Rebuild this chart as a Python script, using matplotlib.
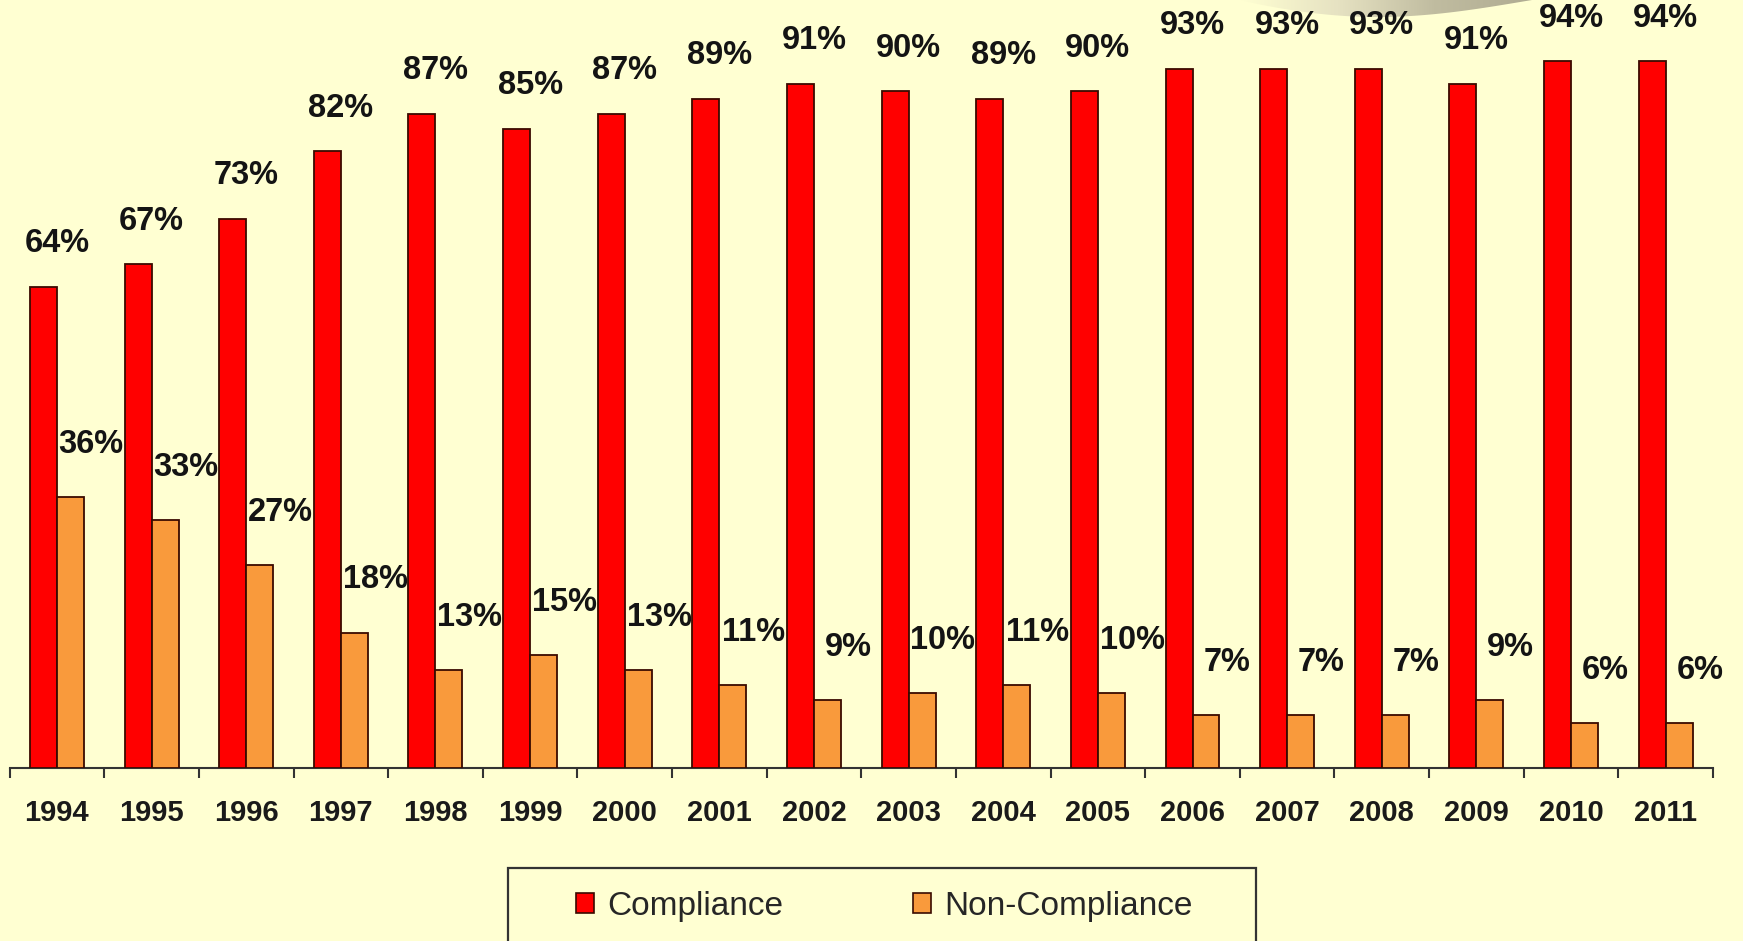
import matplotlib
matplotlib.use("Agg")
import matplotlib.pyplot as plt
import numpy as np
from matplotlib.patches import Rectangle, Polygon, Patch
from matplotlib.colors import LinearSegmentedColormap

# Data
years = ["1994", "1995", "1996", "1997", "1998", "1999", "2000", "2001", "2002",
         "2003", "2004", "2005", "2006", "2007", "2008", "2009", "2010", "2011"]
compliance = [64, 67, 73, 82, 87, 85, 87, 89, 91, 90, 89, 90, 93, 93, 93, 91, 94, 94]
non_compliance = [36, 33, 27, 18, 13, 15, 13, 11, 9, 10, 11, 10, 7, 7, 7, 9, 6, 6]

BG = "#FFFFD2"
RED = "#FF0000"
ORANGE = "#F99A3C"
EDGE = "#3A0A00"
FONT = "Liberation Sans"

W, H = 1743, 941
fig = plt.figure(figsize=(W / 100, H / 100), dpi=100, facecolor=BG)

# Decorative swoosh in the top-right corner
deco = fig.add_axes([0, 0, 1, 1], zorder=0)
deco.set_xlim(0, W)
deco.set_ylim(H, 0)
deco.axis("off")
deco.patch.set_alpha(0)
x0s, x1s = 1240, 1532
xs = np.linspace(x0s, x1s, 80)
t = (xs - x0s) / (x1s - x0s)
lower = 17 * np.sin(np.pi * t ** 0.92)
verts = np.column_stack([np.r_[xs, xs[::-1]], np.r_[lower, np.full_like(xs, -2)]])
clip = Polygon(verts, closed=True, facecolor="none", edgecolor="none")
deco.add_patch(clip)
grad = np.linspace(0, 1, 256)[None, :]
cmap = LinearSegmentedColormap.from_list("swoosh", [BG, "#E6E2C2", "#C0BCA0", "#B0AC92"])
im = deco.imshow(grad, extent=(x0s, x1s, 20, -2), cmap=cmap, aspect="auto", zorder=0)
im.set_clip_path(clip)

# Main chart
ax = fig.add_axes([9.6 / W, 1 - 768 / H, (1713 - 9.6) / W, (768 - 16) / H], zorder=2)
ax.patch.set_alpha(0)

x = np.arange(len(years))
bw = 0.285
ax.bar(x - bw / 2, compliance, bw, color=RED, edgecolor=EDGE, linewidth=1.3,
       label="Compliance", zorder=3)
ax.bar(x + bw / 2, non_compliance, bw, color=ORANGE, edgecolor=EDGE, linewidth=1.3,
       label="Non-Compliance", zorder=3)

ax.set_xlim(-0.5, len(years) - 0.5)
ax.set_ylim(0, 100)

for xi, v in zip(x, compliance):
    ax.annotate(f"{v}%", (xi, v), xytext=(0, 31), textcoords="offset points",
                ha="center", va="center", fontsize=23.5, fontweight="bold",
                family=FONT, color="#141414", zorder=4)
for xi, v in zip(x, non_compliance):
    ax.annotate(f"{v}%", (xi + bw / 2, v), xytext=(15, 38), textcoords="offset points",
                ha="center", va="center", fontsize=23.5, fontweight="bold",
                family=FONT, color="#141414", zorder=4)

for s in ("top", "right", "left"):
    ax.spines[s].set_visible(False)
ax.spines["bottom"].set_color("#333333")
ax.spines["bottom"].set_linewidth(1.5)
ax.set_yticks([])
ax.set_xticks(x)
ax.set_xticklabels(years, fontsize=21, fontweight="bold", family=FONT, color="#1a1a1a")
ax.tick_params(axis="x", which="major", length=0, pad=22)
ax.set_xticks(np.arange(len(years) + 1) - 0.5, minor=True)
ax.tick_params(axis="x", which="minor", length=7, width=1.5, color="#333333", direction="out")

# Legend with its frame running off the bottom edge
frame = Rectangle((508 / W, -0.05), (1256 - 508) / W, 0.05 + 1 - 868 / H,
                  transform=fig.transFigure, facecolor="none", edgecolor="#333333",
                  linewidth=1.6, clip_on=False, zorder=5)
fig.patches.append(frame)
handles = [Patch(facecolor=RED, edgecolor=EDGE, linewidth=1.2, label="Compliance"),
           Patch(facecolor=ORANGE, edgecolor=EDGE, linewidth=1.2, label="Non-Compliance")]
fig.legend(handles=handles, loc="center", bbox_to_anchor=(884 / W, 1 - 906 / H),
           ncol=2, frameon=False, prop={"family": FONT, "size": 24},
           handlelength=0.55, handleheight=0.55, handletextpad=0.38, columnspacing=3.9,
           labelcolor="#262626")

fig.savefig("out.png", dpi=100, facecolor=BG)
